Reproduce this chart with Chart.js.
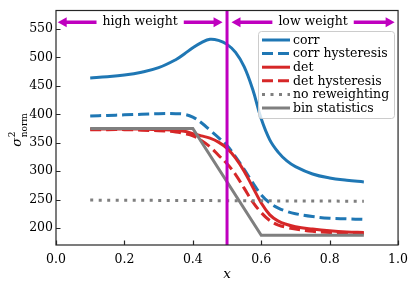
<!DOCTYPE html>
<html><head><meta charset="utf-8">
<script src="https://cdn.jsdelivr.net/npm/chart.js@4/dist/chart.umd.min.js"></script>
<style>html,body{margin:0;padding:0;background:#fff}#wrap{width:415px;height:290px}</style>
</head><body><div id="wrap"><canvas id="c" width="415" height="290"></canvas></div>
<script>
// ---- data ----
const xGrid = [0.1,0.15,0.2,0.25,0.3,0.35,0.375,0.4,0.425,0.45,0.475,0.5,0.525,0.55,0.575,0.6,0.625,0.65,0.675,0.7,0.75,0.8,0.85,0.9];
const corr      = [464,466,469,474,482,496,506,517,526,532,530,523,509,484,444,392,355,333,318,308,295,288,284,281];
const corrHyst  = [397,398,399,400,401,401,400,395,385,372,359,345,325,303,280,258,244,235,229,225,220,217,216,215];
const det       = [374,374,374,374,373,372,370,366,362,358,351,340,323,300,272,244,223,212,206,202,198,195,193,192];
const detHyst   = [373,373,373,372,371,369,366,362,354,343,328,313,294,270,246,227,213,205,201,198,194,192,191,190];
const noRewX    = [0.1,0.9];
const noRew     = [249,247];
const binX      = [0.1,0.4,0.6,0.9];
const binStats  = [375,375,187,187];
const seriesNames = ['corr','corr hysteresis','det','det hysteresis','no reweighting','bin statistics'];
const xTicks = [0,0.2,0.4,0.6,0.8,1.0];
const yTicks = [200,250,300,350,400,450,500,550];
const splitX = 0.5;
const arrowSpans = [[0.005,0.487],[0.513,0.99]];
const arrowLabels = ['high weight','low weight'];
const arrowY = 562;

const pts = (xs, ys) => xs.map((x,i)=>({x:x,y:ys[i]}));
const BLUE='#1f77b4', RED='#d62728', GREY='#7f7f7f', MAG='#bf00bf';
const FONT='"DejaVu Serif", serif';
const FS=12.5;

const dsBase = {fill:false,pointRadius:0,borderWidth:3,borderCapStyle:'butt',tension:0.4};
const datasets = [
  Object.assign({},dsBase,{label:seriesNames[0],data:pts(xGrid,corr),borderColor:BLUE,order:6}),
  Object.assign({},dsBase,{label:seriesNames[1],data:pts(xGrid,corrHyst),borderColor:BLUE,borderDash:[11,5],order:5}),
  Object.assign({},dsBase,{label:seriesNames[2],data:pts(xGrid,det),borderColor:RED,order:4}),
  Object.assign({},dsBase,{label:seriesNames[3],data:pts(xGrid,detHyst),borderColor:RED,borderDash:[11,5],order:3}),
  Object.assign({},dsBase,{label:seriesNames[4],data:pts(noRewX,noRew),borderColor:GREY,borderDash:[3,5.5],order:2,tension:0}),
  Object.assign({},dsBase,{label:seriesNames[5],data:pts(binX,binStats),borderColor:GREY,order:1,tension:0})
];

const deco = {
  id:'deco',
  afterDatasetsDraw(chart){
    const ctx=chart.ctx, a=chart.chartArea, xs=chart.scales.x, ys=chart.scales.y;
    ctx.save();
    ctx.strokeStyle=MAG; ctx.lineWidth=3;
    const vx=xs.getPixelForValue(splitX);
    ctx.beginPath(); ctx.moveTo(vx,a.top); ctx.lineTo(vx,a.bottom); ctx.stroke();
    const ay=ys.getPixelForValue(arrowY);
    ctx.font=FS+'px '+FONT; ctx.textAlign='center'; ctx.textBaseline='middle';
    arrowSpans.forEach((sp,i)=>{
      const x0=xs.getPixelForValue(sp[0]), x1=xs.getPixelForValue(sp[1]);
      const hl=9, hw=5;
      ctx.strokeStyle=MAG; ctx.fillStyle=MAG; ctx.lineWidth=3.5;
      ctx.beginPath(); ctx.moveTo(x0+hl-1,ay); ctx.lineTo(x1-hl+1,ay); ctx.stroke();
      ctx.beginPath(); ctx.moveTo(x0,ay); ctx.lineTo(x0+hl,ay-hw); ctx.lineTo(x0+hl,ay+hw); ctx.closePath(); ctx.fill();
      ctx.beginPath(); ctx.moveTo(x1,ay); ctx.lineTo(x1-hl,ay-hw); ctx.lineTo(x1-hl,ay+hw); ctx.closePath(); ctx.fill();
      const cx=(x0+x1)/2, tw=ctx.measureText(arrowLabels[i]).width;
      ctx.fillStyle='#fff'; ctx.fillRect(cx-tw/2-6,ay-8,tw+12,16);
      ctx.fillStyle='#000'; ctx.fillText(arrowLabels[i],cx,ay);
    });
    ctx.restore();
  },
  afterDraw(chart){
    const ctx=chart.ctx, a=chart.chartArea, xs=chart.scales.x, ys=chart.scales.y;
    ctx.save();
    ctx.strokeStyle='#262626'; ctx.lineWidth=1.2;
    ctx.strokeRect(a.left,a.top,a.right-a.left,a.bottom-a.top);
    ctx.beginPath();
    yTicks.forEach(v=>{const y=Math.round(ys.getPixelForValue(v))+0.5; ctx.moveTo(a.left,y); ctx.lineTo(a.left+4.5,y);});
    xTicks.forEach(v=>{const x=Math.round(xs.getPixelForValue(v))+0.5; ctx.moveTo(x,a.bottom); ctx.lineTo(x,a.bottom-4.5);});
    ctx.stroke();
    const L=258,T=31,R=394,B=118;
    ctx.fillStyle='rgba(255,255,255,0.8)'; ctx.strokeStyle='#cccccc'; ctx.lineWidth=1;
    ctx.beginPath(); ctx.roundRect(L+0.5,T+0.5,R-L,B-T,3); ctx.fill(); ctx.stroke();
    ctx.font=FS+'px '+FONT; ctx.textAlign='left'; ctx.textBaseline='middle';
    chart.data.datasets.forEach((d,i)=>{
      const y=40+i*13.6;
      ctx.strokeStyle=d.borderColor; ctx.lineWidth=3; ctx.lineCap='butt';
      ctx.setLineDash(d.borderDash||[]);
      ctx.beginPath(); ctx.moveTo(262,y); ctx.lineTo(290,y); ctx.stroke();
      ctx.setLineDash([]);
      ctx.fillStyle='#000'; ctx.fillText(d.label,293,y+0.5);
    });
    ctx.font='italic 13.5px '+FONT; ctx.textAlign='center'; ctx.textBaseline='middle';
    ctx.fillText('x',(a.left+a.right)/2,274);
    ctx.translate(21,(a.top+a.bottom)/2+2); ctx.rotate(-Math.PI/2);
    ctx.textAlign='left'; ctx.textBaseline='alphabetic';
    ctx.font='9px '+FONT;
    const nw=ctx.measureText('norm').width;
    ctx.font='italic 13px '+FONT;
    const sw=ctx.measureText('σ').width;
    const sx=-(sw+1+nw)/2;
    ctx.fillText('σ',sx,0);
    ctx.font='9px '+FONT; ctx.fillText('2',sx+sw+0.5,-6.5); ctx.fillText('norm',sx+sw+0.5,5.5);
    ctx.restore();
  }
};

new Chart(document.getElementById('c'),{
  type:'line',
  data:{datasets:datasets},
  options:{
    responsive:false, animation:false, devicePixelRatio:1,
    layout:{padding:{left:0,right:16,top:5,bottom:0}},
    plugins:{legend:{display:false},tooltip:{enabled:false}},
    scales:{
      x:{type:'linear',min:0,max:1,
        afterBuildTicks:s=>{s.ticks=xTicks.map(v=>({value:v}));},
        afterFit:s=>{s.height=45;},
        grid:{display:false,drawTicks:false},border:{display:false},
        ticks:{padding:7,color:'#000',font:{family:FONT,size:FS},callback:v=>Number(v).toFixed(1),maxRotation:0}},
      y:{type:'linear',min:170,max:582.6,
        afterBuildTicks:s=>{s.ticks=yTicks.map(v=>({value:v}));},
        afterFit:s=>{s.width=56;},
        grid:{display:false,drawTicks:false},border:{display:false},
        ticks:{padding:3,color:'#000',font:{family:FONT,size:FS}}}
    }
  },
  plugins:[deco]
});
</script></body></html>
